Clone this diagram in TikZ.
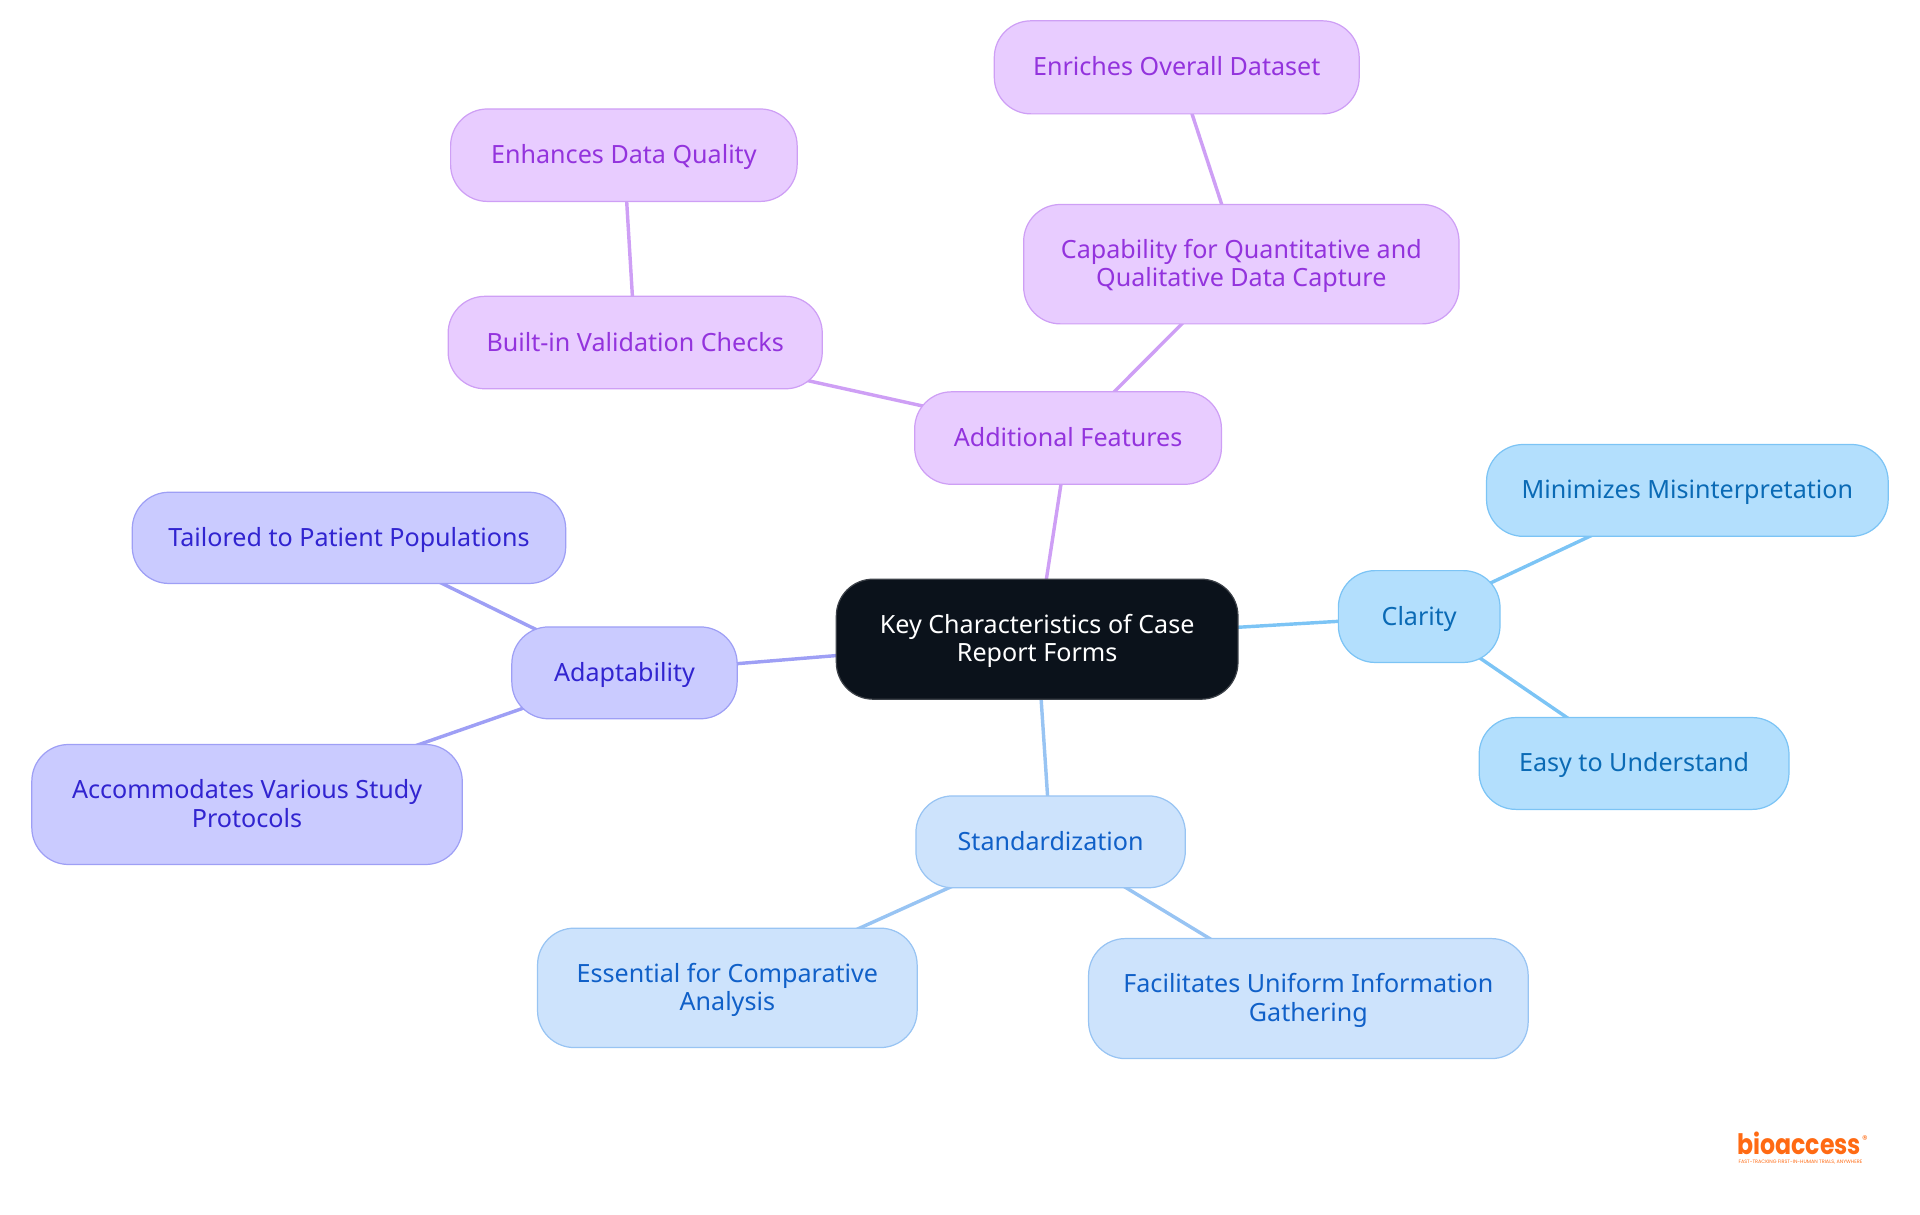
\documentclass[tikz,border=0pt]{standalone}
\usepackage{fontspec}
\setmainfont{Noto Sans}
\newfontfamily\logofont{Poppins}
\usetikzlibrary{backgrounds}
\definecolor{rootfill}{HTML}{0B121B}\definecolor{rootline}{HTML}{3C4148}
\definecolor{clarfill}{HTML}{B3DFFD}\definecolor{clarline}{HTML}{7CC4F5}\definecolor{clartext}{HTML}{0A6AB5}
\definecolor{stanfill}{HTML}{CDE3FC}\definecolor{stanline}{HTML}{98C4F3}\definecolor{stantext}{HTML}{1060C8}
\definecolor{adapfill}{HTML}{CACBFF}\definecolor{adapline}{HTML}{9E9FF5}\definecolor{adaptext}{HTML}{3124D0}
\definecolor{addifill}{HTML}{E8CCFF}\definecolor{addiline}{HTML}{CE9FF5}\definecolor{additext}{HTML}{9333DD}
\definecolor{logoorange}{HTML}{FF6A13}
\tikzset{
  box/.style={rounded corners=30pt,inner sep=0pt,line width=1pt,font=\fontsize{20.5}{23}\selectfont},
  rootbox/.style={box,draw=rootline,fill=rootfill,text=white},
  clarbox/.style={box,draw=clarline,fill=clarfill,text=clartext},
  stanbox/.style={box,draw=stanline,fill=stanfill,text=stantext},
  adapbox/.style={box,draw=adapline,fill=adapfill,text=adaptext},
  addibox/.style={box,draw=addiline,fill=addifill,text=additext},
  link/.style={line width=2.8pt}
}
\newcommand\mnode[7]{\node[#2,minimum width={(#4-#3)*1pt},minimum height={(#6-#5)*1pt}] (#1) at ({(#3+#4)/2},{-(#5+#6)/2}) {\raisebox{-7.5pt}[0pt][0pt]{\begin{tabular}{@{}c@{}}#7\end{tabular}}};}
\begin{document}
\begin{tikzpicture}[x=1pt,y=1pt]
\useasboundingbox (0,0) rectangle (1568,-992.25);
\mnode{root}{rootbox}{683}{1011}{473}{571}{Key Characteristics of Case\\Report Forms}
\mnode{clarity}{clarbox}{1093}{1225}{466}{541}{Clarity}
\mnode{minim}{clarbox}{1214}{1542}{363}{438}{Minimizes Misinterpretation}
\mnode{easy}{clarbox}{1208}{1461}{586}{661}{Easy to Understand}
\mnode{stand}{stanbox}{748}{968}{650}{725}{Standardization}
\mnode{essen}{stanbox}{439}{749}{758}{855.5}{Essential for Comparative\\Analysis}
\mnode{facil}{stanbox}{889}{1248}{766.5}{864.5}{Facilitates Uniform Information\\Gathering}
\mnode{adapt}{adapbox}{418}{602}{512}{587}{Adaptability}
\mnode{tailo}{adapbox}{108}{462}{402}{476.5}{Tailored to Patient Populations}
\mnode{accom}{adapbox}{26}{377.5}{608}{706}{Accommodates Various Study\\Protocols}
\mnode{addit}{addibox}{747}{997.5}{320}{395.5}{Additional Features}
\mnode{built}{addibox}{366}{671.5}{242}{317.5}{Built-in Validation Checks}
\mnode{enhan}{addibox}{368}{651}{89}{164.5}{Enhances Data Quality}
\mnode{capab}{addibox}{836}{1191.5}{167}{264.5}{Capability for Quantitative and\\Qualitative Data Capture}
\mnode{enric}{addibox}{812}{1110}{17}{93}{Enriches Overall Dataset}
\begin{scope}[on background layer]
\draw[link,clarline] (root.center)--(clarity.center);
\draw[link,clarline] (clarity.center)--(minim.center);
\draw[link,clarline] (clarity.center)--(easy.center);
\draw[link,stanline] (root.center)--(stand.center);
\draw[link,stanline] (stand.center)--(essen.center);
\draw[link,stanline] (stand.center)--(facil.center);
\draw[link,adapline] (root.center)--(adapt.center);
\draw[link,adapline] (adapt.center)--(tailo.center);
\draw[link,adapline] (adapt.center)--(accom.center);
\draw[link,addiline] (root.center)--(addit.center);
\draw[link,addiline] (addit.center)--(built.center);
\draw[link,addiline] (built.center)--(enhan.center);
\draw[link,addiline] (addit.center)--(capab.center);
\draw[link,addiline] (capab.center)--(enric.center);
\end{scope}
\node[anchor=base west,inner sep=0pt,text=logoorange,font=\logofont\bfseries\fontsize{23}{23}\selectfont] (logo) at (1418.5,-943) {\scalebox{0.84}[1]{bioaccess}};
\node[inner sep=0pt,text=logoorange,font=\logofont\fontsize{9}{9}\selectfont] (reg) at (1523,-931) {®};
\node[anchor=base west,inner sep=0pt,text=logoorange,font=\logofont\fontsize{4}{4}\selectfont] (tag) at (1419.6,-950) {FAST-TRACKING FIRST-IN-HUMAN TRIALS, ANYWHERE};
\end{tikzpicture}
\end{document}
